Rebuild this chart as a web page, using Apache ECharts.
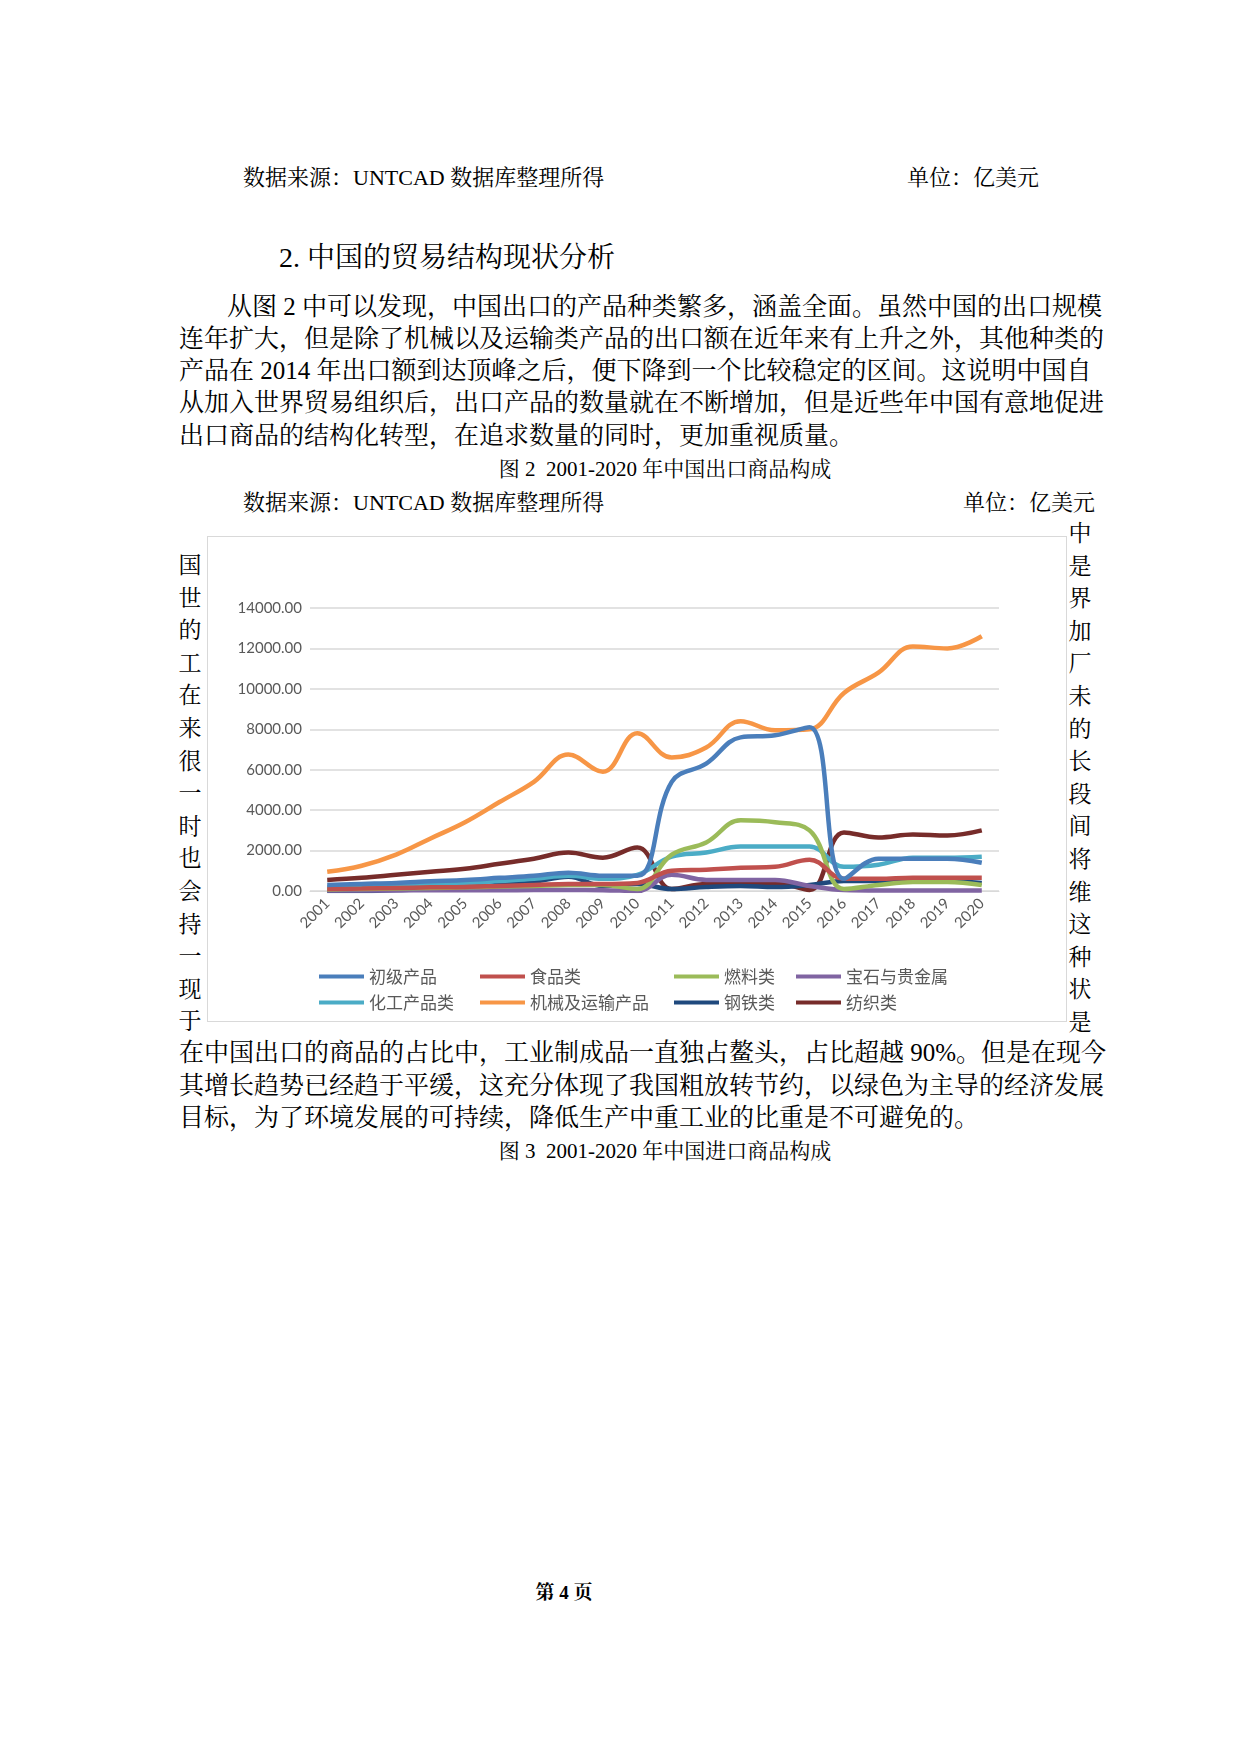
<!DOCTYPE html>
<html><head><meta charset="utf-8">
<script src="https://cdn.jsdelivr.net/npm/echarts@6/dist/echarts.min.js"></script>
<style>
body{margin:0;width:1240px;height:1754px;background:#fff;position:relative;font-family:"Liberation Serif","Noto Serif CJK SC","Noto Sans CJK SC",serif;color:#000}
.t{position:absolute;white-space:nowrap;font-size:25px;line-height:25px}
.v{position:absolute;font-size:23px;width:26px;text-align:center;line-height:32.6px}
#chart{position:absolute;left:207px;top:536px;width:860px;height:486px;border:1px solid #d9d9d9;box-sizing:border-box}
</style></head><body>
<div class="t" style="left:243px;top:165px;font-size:22px">数据来源：UNTCAD 数据库整理所得</div>
<div class="t" style="left:907px;top:165px;font-size:22px">单位：亿美元</div>
<div class="t" style="left:279px;top:244px;font-size:28px;line-height:28px">2. 中国的贸易结构现状分析</div>
<div class="t" style="left:227px;top:294px">从图 2 中可以发现，中国出口的产品种类繁多，涵盖全面。虽然中国的出口规模</div>
<div class="t" style="left:179px;top:326px">连年扩大，但是除了机械以及运输类产品的出口额在近年来有上升之外，其他种类的</div>
<div class="t" style="left:179px;top:358px">产品在 2014 年出口额到达顶峰之后，便下降到一个比较稳定的区间。这说明中国自</div>
<div class="t" style="left:179px;top:390px">从加入世界贸易组织后，出口产品的数量就在不断增加，但是近些年中国有意地促进</div>
<div class="t" style="left:179px;top:423px">出口商品的结构化转型，在追求数量的同时，更加重视质量。</div>
<div class="t" style="left:0;width:1330px;text-align:center;top:457px;font-size:21px">图 2&nbsp; 2001-2020 年中国出口商品构成</div>
<div class="t" style="left:243px;top:490px;font-size:22px">数据来源：UNTCAD 数据库整理所得</div>
<div class="t" style="left:963px;top:490px;font-size:22px">单位：亿美元</div>
<div class="v" style="left:177px;top:550px">国<br>世<br>的<br>工<br>在<br>来<br>很<br>一<br>时<br>也<br>会<br>持<br>一<br>现<br>于</div>
<div class="v" style="left:1067px;top:518px">中<br>是<br>界<br>加<br>厂<br>未<br>的<br>长<br>段<br>间<br>将<br>维<br>这<br>种<br>状<br>是</div>
<div id="chart"></div>
<div class="t" style="left:179px;top:1040px">在中国出口的商品的占比中，工业制成品一直独占鳌头，占比超越 90%。但是在现今</div>
<div class="t" style="left:179px;top:1073px">其增长趋势已经趋于平缓，这充分体现了我国粗放转节约，以绿色为主导的经济发展</div>
<div class="t" style="left:179px;top:1105px">目标，为了环境发展的可持续，降低生产中重工业的比重是不可避免的。</div>
<div class="t" style="left:0;width:1330px;text-align:center;top:1139px;font-size:21px">图 3&nbsp; 2001-2020 年中国进口商品构成</div>
<div class="t" style="left:0;width:1128px;text-align:center;top:1580px;font-size:19px;font-weight:bold">第 4 页</div>
<script>
const years = ['2001','2002','2003','2004','2005','2006','2007','2008','2009','2010','2011','2012','2013','2014','2015','2016','2017','2018','2019','2020'];
const primary = [300,350,400,480,550,650,750,900,750,750,5400,6300,7600,7700,8100,600,1600,1600,1600,1400];
const food = [100,120,150,180,200,250,300,350,350,400,1000,1050,1150,1200,1550,600,600,650,650,650];
const fuel = [80,100,120,150,180,220,250,300,300,100,1800,2400,3500,3400,3000,100,300,450,450,300];
const gems = [20,25,30,35,40,40,45,45,40,0,800,550,550,550,250,50,30,30,30,30];
const chem = [200,250,300,350,400,500,600,750,600,800,1700,1900,2200,2200,2200,1200,1300,1650,1650,1700];
const machinery = [950,1250,1800,2600,3400,4400,5400,6750,5900,7800,6600,7100,8400,7950,8000,9800,10800,12100,12000,12600];
const steel = [0,0,50,100,200,300,450,700,250,350,100,200,250,200,300,500,500,550,500,400];
const textile = [550,650,800,950,1100,1350,1600,1900,1650,2150,100,350,350,400,50,2900,2650,2800,2750,3000];
const names = ['初级产品','食品类','燃料类','宝石与贵金属','化工产品类','机械及运输产品','钢铁类','纺织类'];
const datas = [primary,food,fuel,gems,chem,machinery,steel,textile];
const colors = ['#4a7ebb','#c0504d','#9bbb59','#8064a2','#4bacc6','#f79646','#1f497d','#772c2a'];
const yTicks = [0,2000,4000,6000,8000,10000,12000,14000];
const c = echarts.init(document.getElementById('chart'));
const legFont = {fontSize:17,color:'#595959',fontFamily:'Noto Sans CJK SC'};
const legPos = [106,267,461,583];
c.setOption({
  animation:false,
  grid:{left:102,right:67,top:71,bottom:130},
  xAxis:{type:'category',data:years,boundaryGap:true,
    axisLine:{lineStyle:{color:'#d9d9d9'}},axisTick:{show:false},
    axisLabel:{rotate:45,color:'#595959',fontSize:15,fontFamily:'Lato',margin:10}},
  yAxis:{type:'value',min:0,max:14000,interval:2000,
    axisLine:{show:false},axisTick:{show:false},
    splitLine:{lineStyle:{color:'#d9d9d9',width:1.5}},
    axisLabel:{color:'#595959',fontSize:15,fontFamily:'Lato',formatter:v=>v.toFixed(2)}},
  legend:[0,1,2,3].map(i=>({orient:'vertical',left:legPos[i],top:426,itemGap:9,
    data:[names[i],names[i+4]],icon:'rect',itemWidth:45,itemHeight:4,textStyle:legFont})),
  series:names.map((n,i)=>({name:n,type:'line',data:datas[i],smooth:0.4,symbol:'none',
    lineStyle:{width:4.5,color:colors[i]},itemStyle:{color:colors[i]},z:10-i}))
});
</script>
</body></html>
